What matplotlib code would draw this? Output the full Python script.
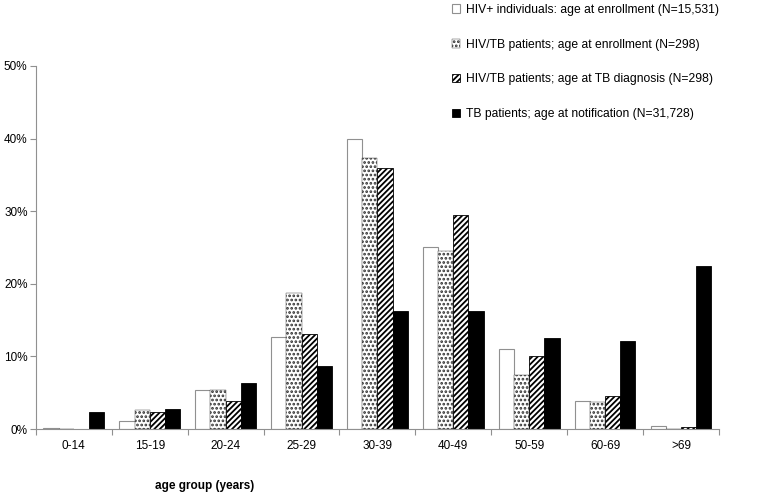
import numpy as np
import matplotlib
matplotlib.use("Agg")
import matplotlib.pyplot as plt
from matplotlib.ticker import FuncFormatter, FixedLocator

plt.rcParams["font.family"] = ["Liberation Sans", "DejaVu Sans"]
plt.rcParams["hatch.linewidth"] = 1.3

age_groups = ["0-14", "15-19", "20-24", "25-29", "30-39", "40-49", "50-59", "60-69", ">69"]
hiv_enroll = [0.1, 1.1, 5.4, 12.7, 40.0, 25.1, 11.0, 3.9, 0.5]
hivtb_enroll = [0.0, 2.7, 5.4, 18.8, 37.3, 24.5, 7.4, 3.7, 0.0]
hivtb_diag = [0.0, 2.3, 3.9, 13.1, 35.9, 29.5, 10.0, 4.6, 0.3]
tb_notif = [2.3, 2.8, 6.3, 8.7, 16.2, 16.3, 12.6, 12.1, 22.4]

labels = [
    "HIV+ individuals: age at enrollment (N=15,531)",
    "HIV/TB patients; age at enrollment (N=298)",
    "HIV/TB patients; age at TB diagnosis (N=298)",
    "TB patients; age at notification (N=31,728)",
]

fig = plt.figure(figsize=(7.64, 4.95), dpi=100)
ax = fig.add_axes([0.047, 0.133, 0.894, 0.734])

x = np.arange(len(age_groups))
w = 0.2
styles = [
    dict(color="white", edgecolor="#909090", linewidth=0.8),
    dict(color="white", edgecolor="#303030", hatch="....", linewidth=0.3),
    dict(color="white", edgecolor="black", hatch="//////", linewidth=0.6),
    dict(color="black", edgecolor="black", linewidth=0.6),
]
series = [hiv_enroll, hivtb_enroll, hivtb_diag, tb_notif]
handles = []
for i, (vals, st) in enumerate(zip(series, styles)):
    h = ax.bar(x + (i - 1.5) * w, vals, width=w, label=labels[i], **st)
    handles.append(h)

ax.set_xlim(-0.5, len(age_groups) - 0.5)
ax.set_ylim(0, 50)
ax.set_yticks([0, 10, 20, 30, 40, 50])
ax.yaxis.set_major_formatter(FuncFormatter(lambda v, p: f"{int(v)}%"))
ax.set_xticks(x)
ax.set_xticklabels(age_groups)
ax.xaxis.set_minor_locator(FixedLocator(np.arange(-0.5, len(age_groups), 1.0)))
ax.tick_params(axis="x", which="major", length=0, pad=8, labelsize=8.5)
ax.tick_params(axis="x", which="minor", length=4, color="#909090", width=0.8)
ax.tick_params(axis="y", length=4, color="#909090", width=0.8, labelsize=8.5, pad=2)

for s in ["top", "right"]:
    ax.spines[s].set_visible(False)
for s in ["left", "bottom"]:
    ax.spines[s].set_color("#909090")
    ax.spines[s].set_linewidth(0.8)

fig.text(205 / 764, 1 - 486 / 495, "age group (years)", fontsize=8.5, fontweight="bold",
         ha="center", va="center")

fig.legend(handles=handles, loc="upper left", bbox_to_anchor=(447 / 764, 1.0 + 1 / 495),
           frameon=False, fontsize=8.7, handlelength=0.7, handleheight=0.7,
           handletextpad=0.45, labelspacing=1.88, borderaxespad=0.0)

fig.savefig("out.png", dpi=100)
